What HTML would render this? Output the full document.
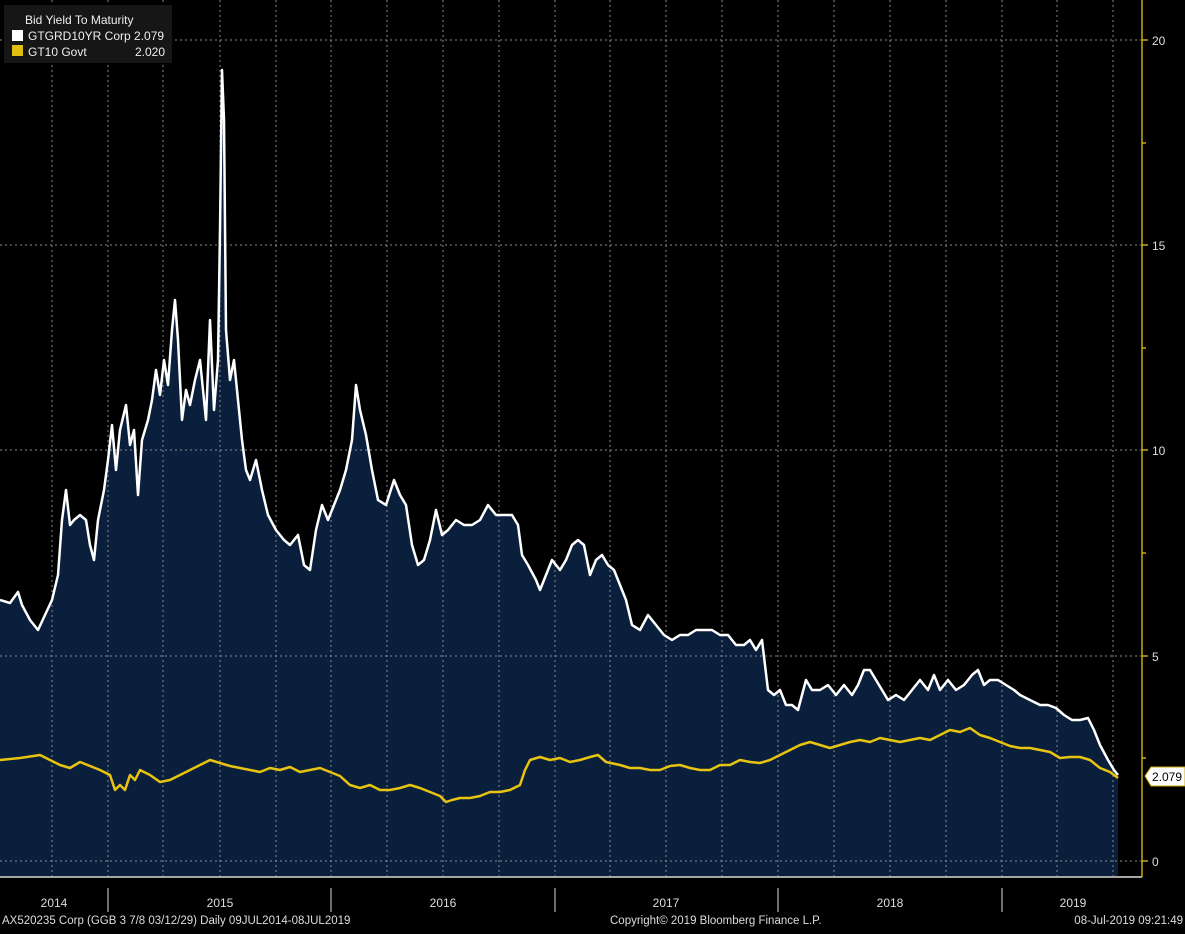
<!DOCTYPE html>
<html><head><style>
body{margin:0;background:#000;width:1185px;height:929px;overflow:hidden;font-family:"Liberation Sans",sans-serif}
svg text{font-family:"Liberation Sans",sans-serif}
</style></head><body>
<svg width="1185" height="929" viewBox="0 0 1185 929" xmlns="http://www.w3.org/2000/svg">
<rect width="1185" height="929" fill="#000"/>
<polygon fill="#0a1f3c" points="0,876 0,600 10,603 18,592 22,605 30,620 38,630 45,615 52,600 58,575 62,520 66,490 70,525 74,520 80,515 86,520 90,545 94,560 98,520 104,490 108,460 112,425 116,470 120,430 126,405 130,445 134,430 138,495 142,440 148,420 152,400 156,370 160,395 164,360 168,385 172,330 175,300 178,340 182,420 186,390 190,405 195,380 200,360 206,420 210,320 214,410 218,360 220,230 222,70 224,120 226,330 230,380 234,360 238,400 242,440 246,470 250,480 256,460 262,490 268,515 276,530 284,540 290,545 298,535 304,565 310,570 316,530 322,505 328,520 334,505 340,490 346,470 352,440 356,385 360,410 366,435 372,470 378,500 386,505 394,480 400,495 406,505 412,545 418,565 424,560 430,540 436,510 442,535 448,530 456,520 464,525 472,525 480,520 488,505 496,515 504,515 512,515 518,525 522,555 528,565 536,580 540,590 546,575 552,560 560,570 566,560 572,545 578,540 584,545 590,575 596,560 602,555 608,565 614,570 620,585 626,600 632,625 640,630 648,615 656,625 664,635 672,640 680,635 688,635 696,630 704,630 712,630 720,635 728,635 736,645 744,645 750,640 756,650 762,640 768,690 774,695 780,690 786,705 792,705 798,710 806,680 812,690 820,690 828,685 836,695 844,685 852,695 858,685 864,670 870,670 876,680 882,690 888,700 896,695 904,700 912,690 920,680 928,690 934,675 940,690 948,680 956,690 964,685 972,675 978,670 984,685 990,680 998,680 1006,685 1014,690 1020,695 1030,700 1040,705 1048,705 1056,708 1064,715 1072,720 1080,720 1088,718 1094,730 1100,745 1108,760 1114,770 1118,775 1118,876"/>
<g stroke="#8a8a8a" stroke-width="1" stroke-dasharray="2,3" fill="none">
<line x1="0" y1="40" x2="1142" y2="40"/><line x1="0" y1="245" x2="1142" y2="245"/><line x1="0" y1="450" x2="1142" y2="450"/><line x1="0" y1="656" x2="1142" y2="656"/><line x1="0" y1="861" x2="1142" y2="861"/>
<line x1="52" y1="0" x2="52" y2="876"/><line x1="108" y1="0" x2="108" y2="876"/><line x1="163" y1="0" x2="163" y2="876"/><line x1="220" y1="0" x2="220" y2="876"/><line x1="276" y1="0" x2="276" y2="876"/><line x1="331" y1="0" x2="331" y2="876"/><line x1="387" y1="0" x2="387" y2="876"/><line x1="443" y1="0" x2="443" y2="876"/><line x1="499" y1="0" x2="499" y2="876"/><line x1="555" y1="0" x2="555" y2="876"/><line x1="610" y1="0" x2="610" y2="876"/><line x1="666" y1="0" x2="666" y2="876"/><line x1="722" y1="0" x2="722" y2="876"/><line x1="778" y1="0" x2="778" y2="876"/><line x1="834" y1="0" x2="834" y2="876"/><line x1="890" y1="0" x2="890" y2="876"/><line x1="946" y1="0" x2="946" y2="876"/><line x1="1002" y1="0" x2="1002" y2="876"/><line x1="1057" y1="0" x2="1057" y2="876"/><line x1="1113" y1="0" x2="1113" y2="876"/>
</g>
<polyline fill="none" stroke="#e8c410" stroke-width="2.5" stroke-linejoin="round" points="0,760 20,758 40,755 60,765 70,768 80,762 100,770 110,775 115,790 120,785 125,790 130,775 135,780 140,770 150,775 160,782 170,780 180,775 190,770 200,765 210,760 220,763 230,766 240,768 250,770 260,772 270,768 280,770 290,767 300,772 310,770 320,768 330,772 340,776 350,785 360,788 370,785 380,790 390,790 400,788 410,785 420,788 430,792 440,796 446,802 452,800 460,798 470,798 480,796 490,792 500,792 510,790 520,785 525,770 530,760 540,757 550,760 560,758 570,762 580,760 590,757 598,755 606,762 620,765 630,768 640,768 650,770 660,770 670,766 680,765 690,768 700,770 710,770 720,765 730,765 740,760 750,762 760,763 770,760 780,755 790,750 800,745 810,742 820,745 830,748 840,745 850,742 860,740 870,742 880,738 890,740 900,742 910,740 920,738 930,740 940,735 950,730 960,732 970,728 980,735 990,738 1000,742 1010,746 1020,748 1030,748 1040,750 1050,752 1060,758 1070,757 1080,757 1090,760 1100,768 1110,772 1118,778"/>
<polyline fill="none" stroke="#fff" stroke-width="2.5" stroke-linejoin="round" points="0,600 10,603 18,592 22,605 30,620 38,630 45,615 52,600 58,575 62,520 66,490 70,525 74,520 80,515 86,520 90,545 94,560 98,520 104,490 108,460 112,425 116,470 120,430 126,405 130,445 134,430 138,495 142,440 148,420 152,400 156,370 160,395 164,360 168,385 172,330 175,300 178,340 182,420 186,390 190,405 195,380 200,360 206,420 210,320 214,410 218,360 220,230 222,70 224,120 226,330 230,380 234,360 238,400 242,440 246,470 250,480 256,460 262,490 268,515 276,530 284,540 290,545 298,535 304,565 310,570 316,530 322,505 328,520 334,505 340,490 346,470 352,440 356,385 360,410 366,435 372,470 378,500 386,505 394,480 400,495 406,505 412,545 418,565 424,560 430,540 436,510 442,535 448,530 456,520 464,525 472,525 480,520 488,505 496,515 504,515 512,515 518,525 522,555 528,565 536,580 540,590 546,575 552,560 560,570 566,560 572,545 578,540 584,545 590,575 596,560 602,555 608,565 614,570 620,585 626,600 632,625 640,630 648,615 656,625 664,635 672,640 680,635 688,635 696,630 704,630 712,630 720,635 728,635 736,645 744,645 750,640 756,650 762,640 768,690 774,695 780,690 786,705 792,705 798,710 806,680 812,690 820,690 828,685 836,695 844,685 852,695 858,685 864,670 870,670 876,680 882,690 888,700 896,695 904,700 912,690 920,680 928,690 934,675 940,690 948,680 956,690 964,685 972,675 978,670 984,685 990,680 998,680 1006,685 1014,690 1020,695 1030,700 1040,705 1048,705 1056,708 1064,715 1072,720 1080,720 1088,718 1094,730 1100,745 1108,760 1114,770 1118,775"/>
<line x1="1142" y1="0" x2="1142" y2="877" stroke="#c8a810" stroke-width="1.5"/>
<line x1="0" y1="877" x2="1142" y2="877" stroke="#ddd" stroke-width="1.5"/>
<g stroke="#c8a810" stroke-width="1.5">
<line x1="1142" y1="40" x2="1148" y2="40"/><line x1="1142" y1="245" x2="1148" y2="245"/><line x1="1142" y1="450" x2="1148" y2="450"/><line x1="1142" y1="656" x2="1148" y2="656"/><line x1="1142" y1="861" x2="1148" y2="861"/>
<line x1="1142" y1="143" x2="1146" y2="143"/><line x1="1142" y1="348" x2="1146" y2="348"/><line x1="1142" y1="553" x2="1146" y2="553"/><line x1="1142" y1="758" x2="1146" y2="758"/>
</g>
<g fill="#ddd" font-size="12">
<text x="1152" y="45">20</text><text x="1152" y="250">15</text><text x="1152" y="455">10</text><text x="1152" y="661">5</text><text x="1152" y="866">0</text>
</g>
<polygon points="1145,776 1151,767 1185,767 1185,786 1151,786" fill="#fff" stroke="#c8a810" stroke-width="1"/>
<text x="1152" y="781" font-size="12" fill="#000">2.079</text>
<g stroke="#ddd" stroke-width="1">
<line x1="108" y1="888" x2="108" y2="912"/><line x1="331" y1="888" x2="331" y2="912"/><line x1="555" y1="888" x2="555" y2="912"/><line x1="778" y1="888" x2="778" y2="912"/><line x1="1002" y1="888" x2="1002" y2="912"/>
</g>
<g fill="#ddd" font-size="12" text-anchor="middle">
<text x="54" y="907">2014</text><text x="220" y="907">2015</text><text x="443" y="907">2016</text><text x="666" y="907">2017</text><text x="890" y="907">2018</text><text x="1073" y="907">2019</text>
</g>
<g fill="#ddd" font-size="11.5">
<text x="2" y="924">AX520235 Corp (GGB 3 7/8 03/12/29)  Daily 09JUL2014-08JUL2019</text>
<text x="610" y="924">Copyright© 2019 Bloomberg Finance L.P.</text>
<text x="1183" y="924" text-anchor="end">08-Jul-2019 09:21:49</text>
</g>
<rect x="4" y="5" width="168" height="58" fill="#161616"/>
<g font-size="12" fill="#eee">
<text x="25" y="24">Bid Yield To Maturity</text>
<rect x="12" y="30" width="11" height="11" fill="#fff"/>
<text x="28" y="40">GTGRD10YR Corp 2.079</text>
<rect x="12" y="45" width="11" height="11" fill="#e0bf10"/>
<text x="28" y="56">GT10 Govt</text><text x="165" y="56" text-anchor="end">2.020</text>
</g>
</svg>
</body></html>
